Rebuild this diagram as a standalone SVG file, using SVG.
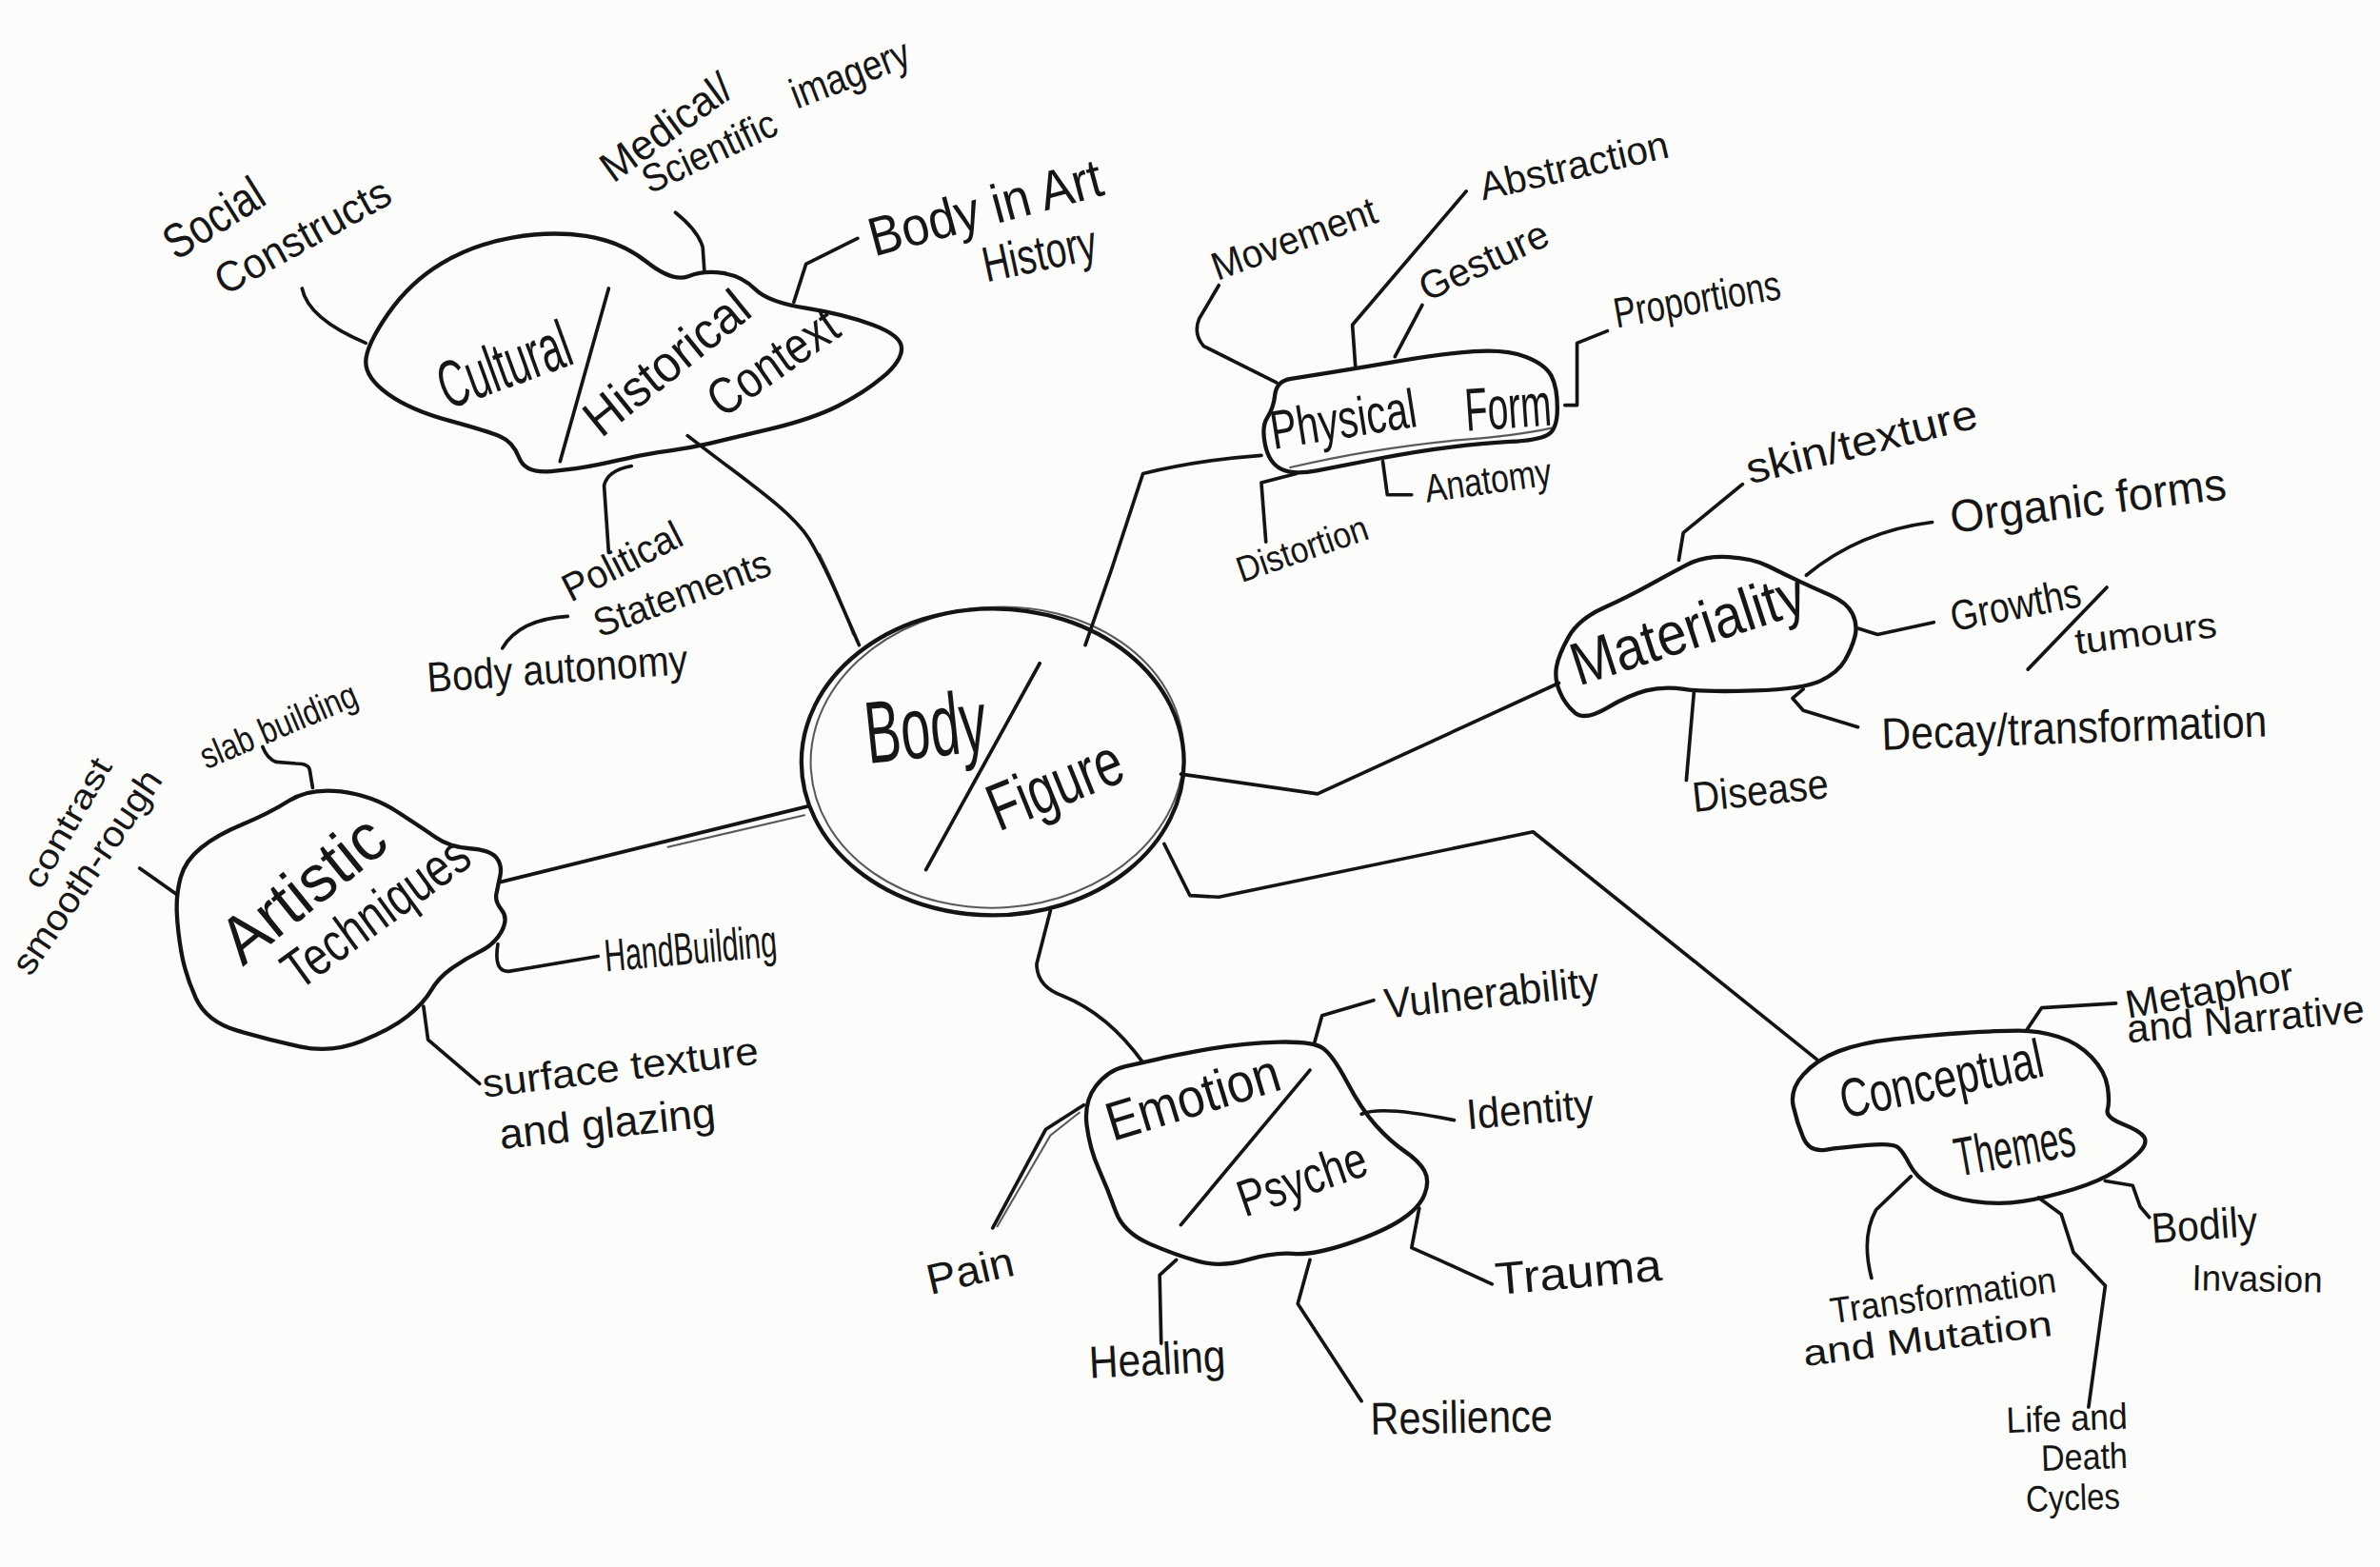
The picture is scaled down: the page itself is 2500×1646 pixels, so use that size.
<svg xmlns="http://www.w3.org/2000/svg" width="2500" height="1646" viewBox="0 0 2500 1646">
<style>
.ln{fill:none;stroke:#141414;stroke-width:2.3;stroke-linecap:round;stroke-linejoin:round}
.bl{fill:none;stroke:#141414;stroke-width:2.7;stroke-linecap:round;stroke-linejoin:round}
.sk{fill:none;stroke:#141414;stroke-width:1.3;stroke-linecap:round;opacity:0.7}
text{font-family:"Liberation Sans",Arial,sans-serif;fill:#161616}
</style>
<rect width="2500" height="1646" fill="#fcfcfb"/>
<g transform="scale(1.5944)">
<g id="connectors">
<path class="ln" d="M453,287 C490,316 520,335 533,355 C545,375 555,400 566,425"/>
<path class="sk" d="M540,365 C550,385 556,400 562,418"/>
<path class="ln" d="M199,190 Q203,210 241,226"/>
<path class="ln" d="M445,140 Q460,152 463,163 L464,178"/>
<path class="ln" d="M523,199 L531,174 L565,157"/>
<path class="ln" d="M416,307 Q400,310 398,320 L401,364"/>
<path class="ln" d="M331,427 Q342,408 374,406"/>
<path class="ln" d="M330,581 L533,531"/>
<path class="sk" d="M440,558 L530,537"/>
<path class="ln" d="M206,519 L204,507 Q203,503 195,503 L182,502 Q176,500 173,492"/>
<path class="ln" d="M92,572 L116,589"/>
<path class="ln" d="M328,622 Q325,640 335,640 L394,630"/>
<path class="ln" d="M279,663 L282,685 L316,714"/>
<path class="ln" d="M715,425 L732,376 L753,312 Q790,303 831,300"/>
<path class="ln" d="M841,252 L793,228 Q786,220 790,210 L803,188"/>
<path class="ln" d="M893,242 L891,214 L966,126"/>
<path class="ln" d="M919,235 L937,201"/>
<path class="ln" d="M1031,267 L1039,267 L1039,226 L1059,218"/>
<path class="ln" d="M911,304 L914,326 L930,326"/>
<path class="ln" d="M854,312 L831,318 L834,357"/>
<path class="ln" d="M778,510 Q820,516 868,523 L1027,450"/>
<path class="ln" d="M1106,369 L1109,351 L1148,319"/>
<path class="ln" d="M1190,379 Q1225,350 1273,344"/>
<path class="ln" d="M1224,414 L1237,418 L1274,410"/>
<path class="ln" d="M1188,454 L1181,460 L1188,468 L1224,479"/>
<path class="ln" d="M1116,456 L1111,514"/>
<path class="ln" d="M692,600 L683,635 Q683,650 700,656 Q730,668 753,700"/>
<path class="ln" d="M866,687 L871,669 L905,659"/>
<path class="ln" d="M897,734 Q910,728 958,738"/>
<path class="ln" d="M714,728 L689,744 L654,809"/>
<path class="sk" d="M711,733 L692,748 L657,808"/>
<path class="ln" d="M935,796 L930,822 L948,830 L983,846"/>
<path class="ln" d="M775,830 L764,840 L765,885"/>
<path class="ln" d="M863,830 L855,859 L897,923"/>
<path class="ln" d="M767,556 L784,590 L803,591 L1010,548 L1197,698"/>
<path class="ln" d="M1335,679 L1345,664 L1394,661"/>
<path class="ln" d="M1387,778 L1405,781 L1410,795 L1416,802"/>
<path class="ln" d="M1259,775 L1236,797 Q1226,815 1233,842"/>
<path class="ln" d="M1343,789 L1358,800 L1366,825 L1387,847 L1376,927"/>
</g>

<g id="node-body-figure">
<ellipse class="bl" cx="654" cy="502" rx="126" ry="101"/>
<ellipse class="sk" cx="657" cy="499" rx="123" ry="99" transform="rotate(-4 657 499)"/>
<line class="ln" x1="610" y1="573" x2="685" y2="437"/>
<text transform="translate(572 503) rotate(-6)" font-size="58" textLength="80" lengthAdjust="spacingAndGlyphs">Body</text>
<text transform="translate(658 548) rotate(-22)" font-size="44" textLength="92" lengthAdjust="spacingAndGlyphs">Figure</text>
</g>

<g id="node-cultural">
<path class="bl" d="M241,238.5 Q241,228 255.5,207 Q270,186 291,173.5 Q312,161 337.5,156.5 Q363,152 386,155.5 Q409,159 426,172.5 Q443,186 453.5,182 Q464,178 476.5,180 Q489,182 497.5,190.5 Q506,199 531,203 Q556,207 575,214 Q594,221 594,229.5 Q594,238 581.5,248.5 Q569,259 552,267.5 Q535,276 508,282.5 Q481,289 468,292 Q455,295 440.5,297 Q426,299 417.5,301 Q409,303 394.5,306 Q380,309 363,310.5 Q346,312 342,301.5 Q338,291 329.5,287.5 Q321,284 295.5,277 Q270,270 255.5,259.5 Q241,249 241,238.5 Z"/>
<line class="ln" x1="401" y1="190" x2="369" y2="304"/>
<text transform="translate(295 270) rotate(-20)" font-size="44" textLength="90" lengthAdjust="spacingAndGlyphs">Cultural</text>
<text transform="translate(396 289) rotate(-39)" font-size="34" textLength="130" lengthAdjust="spacingAndGlyphs">Historical</text>
<text transform="translate(476 276) rotate(-35)" font-size="34" textLength="97" lengthAdjust="spacingAndGlyphs">Context</text>
</g>
<g id="leaf-social"><text transform="translate(116 172) rotate(-32)" font-size="32" textLength="72" lengthAdjust="spacingAndGlyphs">Social</text>
<text transform="translate(148 195) rotate(-29)" font-size="28" textLength="128" lengthAdjust="spacingAndGlyphs">Constructs</text></g>
<g id="leaf-medical"><text transform="translate(404 121) rotate(-36)" font-size="28" textLength="100" lengthAdjust="spacingAndGlyphs">Medical/</text>
<text transform="translate(428 128) rotate(-25)" font-size="26" textLength="95" lengthAdjust="spacingAndGlyphs">Scientific</text>
<text transform="translate(525 72) rotate(-21)" font-size="28" textLength="82" lengthAdjust="spacingAndGlyphs">imagery</text></g>
<g id="leaf-bodyart"><text transform="translate(576 169) rotate(-15)" font-size="36" textLength="158" lengthAdjust="spacingAndGlyphs">Body in Art</text>
<text transform="translate(650 186) rotate(-12)" font-size="33" textLength="76" lengthAdjust="spacingAndGlyphs">History</text></g>
<g id="leaf-political"><text transform="translate(376 397) rotate(-27)" font-size="26" textLength="85" lengthAdjust="spacingAndGlyphs">Political</text>
<text transform="translate(395 420) rotate(-20)" font-size="26" textLength="122" lengthAdjust="spacingAndGlyphs">Statements</text></g>
<g id="leaf-autonomy"><text transform="translate(282 456) rotate(-4)" font-size="28" textLength="172" lengthAdjust="spacingAndGlyphs">Body autonomy</text></g>

<g id="node-artistic">
<path class="bl" d="M116.5,601 Q116,589 119,578 Q122,567 132.5,558.5 Q143,550 160,543 Q177,536 190.5,527.5 Q204,519 224.5,521.5 Q245,524 262,535 Q279,546 287.5,552 Q296,558 309.5,559 Q323,560 327,565 Q331,570 329.5,577 Q328,584 327,589 Q326,594 330.5,599.5 Q335,605 330.5,613.5 Q326,622 316,627 Q306,632 297.5,638 Q289,644 284,652.5 Q279,661 268.5,669.5 Q258,678 238,686 Q218,694 197.5,689.5 Q177,685 156.5,679 Q136,673 129,657.5 Q122,642 119.5,627.5 Q117,613 116.5,601 Z"/>
<text transform="translate(160 637) rotate(-39)" font-size="44" textLength="126" lengthAdjust="spacingAndGlyphs">Artistic</text>
<text transform="translate(197 653) rotate(-36)" font-size="36" textLength="143" lengthAdjust="spacingAndGlyphs">Techniques</text>
</g>
<g id="leaf-slab"><text transform="translate(136 507) rotate(-23)" font-size="24" textLength="110" lengthAdjust="spacingAndGlyphs">slab building</text></g>
<g id="leaf-contrast"><text transform="translate(27 587) rotate(-60)" font-size="22" textLength="95" lengthAdjust="spacingAndGlyphs">contrast</text>
<text transform="translate(20 644) rotate(-56)" font-size="24" textLength="157" lengthAdjust="spacingAndGlyphs">smooth-rough</text></g>
<g id="leaf-hand"><text transform="translate(399 640) rotate(-5)" font-size="30" textLength="114" lengthAdjust="spacingAndGlyphs">HandBuilding</text></g>
<g id="leaf-surface"><text transform="translate(319 723) rotate(-7)" font-size="26" textLength="183" lengthAdjust="spacingAndGlyphs">surface texture</text>
<text transform="translate(330 757) rotate(-6)" font-size="28" textLength="143" lengthAdjust="spacingAndGlyphs">and glazing</text></g>

<g id="node-physical">
<path class="bl" d="M840,260 Q841,251 850.5,249.5 Q860,248 879,245 Q898,242 924,237.5 Q950,233 971,231.5 Q992,230 1005,235 Q1018,240 1022,247.5 Q1026,255 1026,269 Q1026,283 1019.5,286.5 Q1013,290 995,291 Q977,292 956,294.5 Q935,297 909,302 Q883,307 867.5,310 Q852,313 844,309 Q836,305 833.5,293 Q831,281 835,275 Q839,269 840,260 Z"/>
<path class="sk" d="M850,308 Q900,296 960,290 Q1000,287 1022,282"/>
<text transform="translate(839 296) rotate(-9)" font-size="36" textLength="97" lengthAdjust="spacingAndGlyphs">Physical</text>
<text transform="translate(966 284) rotate(-4)" font-size="40" textLength="57" lengthAdjust="spacingAndGlyphs">Form</text>
</g>
<g id="leaf-movement"><text transform="translate(802 185) rotate(-20)" font-size="26" textLength="114" lengthAdjust="spacingAndGlyphs">Movement</text></g>
<g id="leaf-abstraction"><text transform="translate(977 132) rotate(-13)" font-size="26" textLength="127" lengthAdjust="spacingAndGlyphs">Abstraction</text></g>
<g id="leaf-gesture"><text transform="translate(940 199) rotate(-25)" font-size="26" textLength="91" lengthAdjust="spacingAndGlyphs">Gesture</text></g>
<g id="leaf-proportions"><text transform="translate(1065 216) rotate(-10)" font-size="28" textLength="111" lengthAdjust="spacingAndGlyphs">Proportions</text></g>
<g id="leaf-anatomy"><text transform="translate(940 331) rotate(-8)" font-size="26" textLength="84" lengthAdjust="spacingAndGlyphs">Anatomy</text></g>
<g id="leaf-distortion"><text transform="translate(818 384) rotate(-19)" font-size="24" textLength="90" lengthAdjust="spacingAndGlyphs">Distortion</text></g>

<g id="node-materiality">
<path class="bl" d="M1025.5,439 Q1027,431 1033.5,419.5 Q1040,408 1056.5,400.5 Q1073,393 1086.5,385.5 Q1100,378 1111.5,372 Q1123,366 1139,367 Q1155,368 1165,373 Q1175,378 1184.5,382.5 Q1194,387 1205.5,392 Q1217,397 1220.5,404.5 Q1224,412 1222,419.5 Q1220,427 1215.5,435 Q1211,443 1199.5,448.5 Q1188,454 1155.5,455 Q1123,456 1109.5,454 Q1096,452 1084.5,455 Q1073,458 1058.5,466.5 Q1044,475 1037.5,469.5 Q1031,464 1027.5,455.5 Q1024,447 1025.5,439 Z"/>
<text transform="translate(1040 452) rotate(-18)" font-size="40" textLength="160" lengthAdjust="spacingAndGlyphs">Materiality</text>
</g>
<g id="leaf-skin"><text transform="translate(1153 319) rotate(-14)" font-size="28" textLength="156" lengthAdjust="spacingAndGlyphs">skin/texture</text></g>
<g id="leaf-organic"><text transform="translate(1286 351) rotate(-7)" font-size="30" textLength="183" lengthAdjust="spacingAndGlyphs">Organic forms</text></g>
<g id="leaf-growths"><text transform="translate(1287 416) rotate(-11)" font-size="28" textLength="87" lengthAdjust="spacingAndGlyphs">Growths</text>
<line class="ln" x1="1336" y1="441" x2="1388" y2="387"/>
<text transform="translate(1368 431) rotate(-7)" font-size="24" textLength="94" lengthAdjust="spacingAndGlyphs">tumours</text></g>
<g id="leaf-decay"><text transform="translate(1240 494) rotate(-2)" font-size="30" textLength="254" lengthAdjust="spacingAndGlyphs">Decay/transformation</text></g>
<g id="leaf-disease"><text transform="translate(1116 535) rotate(-6)" font-size="28" textLength="90" lengthAdjust="spacingAndGlyphs">Disease</text></g>

<g id="node-emotion">
<path class="bl" d="M716,741.5 Q714,726 722,715.5 Q730,705 741.5,702.5 Q753,700 764,697.5 Q775,695 797.5,691 Q820,687 842.5,686.5 Q865,686 871.5,690.5 Q878,695 887.5,713 Q897,731 906.5,741.5 Q916,752 925.5,758.5 Q935,765 938.5,771.5 Q942,778 938.5,787 Q935,796 922.5,804 Q910,812 887.5,819.5 Q865,827 852,826 Q839,825 821.5,830 Q804,835 789.5,831 Q775,827 757.5,819.5 Q740,812 735,798 Q730,784 724,770.5 Q718,757 716,741.5 Z"/>
<line class="ln" x1="778" y1="807" x2="863" y2="705"/>
<text transform="translate(733 752) rotate(-17)" font-size="36" textLength="118" lengthAdjust="spacingAndGlyphs">Emotion</text>
<text transform="translate(820 802) rotate(-19)" font-size="34" textLength="88" lengthAdjust="spacingAndGlyphs">Psyche</text>
</g>
<g id="leaf-vulnerability"><text transform="translate(913 671) rotate(-6)" font-size="28" textLength="142" lengthAdjust="spacingAndGlyphs">Vulnerability</text></g>
<g id="leaf-identity"><text transform="translate(967 744) rotate(-5)" font-size="28" textLength="84" lengthAdjust="spacingAndGlyphs">Identity</text></g>
<g id="leaf-pain"><text transform="translate(613 853) rotate(-13)" font-size="28" textLength="58" lengthAdjust="spacingAndGlyphs">Pain</text></g>
<g id="leaf-trauma"><text transform="translate(986 853) rotate(-5)" font-size="30" textLength="110" lengthAdjust="spacingAndGlyphs">Trauma</text></g>
<g id="leaf-healing"><text transform="translate(718 908) rotate(-3)" font-size="30" textLength="90" lengthAdjust="spacingAndGlyphs">Healing</text></g>
<g id="leaf-resilience"><text transform="translate(903 945) rotate(-1)" font-size="30" textLength="120" lengthAdjust="spacingAndGlyphs">Resilience</text></g>

<g id="node-conceptual">
<path class="bl" d="M1188,708 Q1197,698 1211.5,692.5 Q1226,687 1248,684.5 Q1270,682 1293.5,680.5 Q1317,679 1330,679 Q1343,679 1356,683 Q1369,687 1378,696.5 Q1387,706 1388.5,716 Q1390,726 1388.5,731 Q1387,736 1398.5,740.5 Q1410,745 1412.5,749 Q1415,753 1410,758.5 Q1405,764 1394.5,771 Q1384,778 1366,783.5 Q1348,789 1332.5,791.5 Q1317,794 1300,791.5 Q1283,789 1272.5,782 Q1262,775 1258,767 Q1254,759 1250.5,756 Q1247,753 1230,754.5 Q1213,756 1202.5,757.5 Q1192,759 1188,749.5 Q1184,740 1181.5,729 Q1179,718 1188,708 Z"/>
<text transform="translate(1215 737) rotate(-12)" font-size="36" textLength="136" lengthAdjust="spacingAndGlyphs">Conceptual</text>
<text transform="translate(1290 775) rotate(-10)" font-size="36" textLength="80" lengthAdjust="spacingAndGlyphs">Themes</text>
</g>
<g id="leaf-metaphor"><text transform="translate(1402 671) rotate(-10)" font-size="26" textLength="112" lengthAdjust="spacingAndGlyphs">Metaphor</text>
<text transform="translate(1402 687) rotate(-5)" font-size="26" textLength="157" lengthAdjust="spacingAndGlyphs">and Narrative</text></g>
<g id="leaf-bodily"><text transform="translate(1418 819) rotate(-4)" font-size="28" textLength="70" lengthAdjust="spacingAndGlyphs">Bodily</text>
<text transform="translate(1444 850) rotate(1)" font-size="24" textLength="86" lengthAdjust="spacingAndGlyphs">Invasion</text></g>
<g id="leaf-transformation"><text transform="translate(1207 872) rotate(-8)" font-size="24" textLength="150" lengthAdjust="spacingAndGlyphs">Transformation</text>
<text transform="translate(1189 900) rotate(-7)" font-size="24" textLength="165" lengthAdjust="spacingAndGlyphs">and Mutation</text></g>
<g id="leaf-life"><text transform="translate(1322 944) rotate(-2)" font-size="24" textLength="80" lengthAdjust="spacingAndGlyphs">Life and</text>
<text transform="translate(1345 969) rotate(-2)" font-size="24" textLength="57" lengthAdjust="spacingAndGlyphs">Death</text>
<text transform="translate(1335 996) rotate(-2)" font-size="24" textLength="62" lengthAdjust="spacingAndGlyphs">Cycles</text></g>
</g>
</svg>
